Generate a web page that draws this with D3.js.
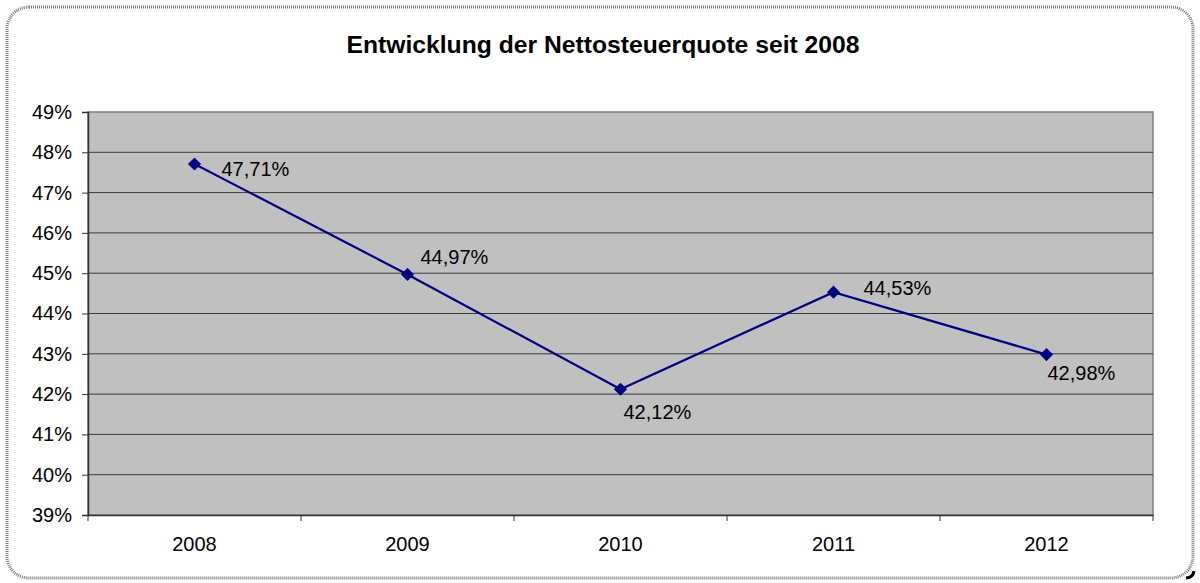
<!DOCTYPE html>
<html><head><meta charset="utf-8">
<script src="https://cdn.jsdelivr.net/npm/d3@7"></script>
<style>body{margin:0;background:#fff}svg{display:block}text{font-family:"Liberation Sans",Arial,sans-serif}</style>
</head><body>
<svg id="c" width="1200" height="583"></svg>
<script>
const title = "Entwicklung der Nettosteuerquote seit 2008";
const years = ["2008","2009","2010","2011","2012"];
const quote = [47.71, 44.97, 42.12, 44.53, 42.98];
const yTicks = [39,40,41,42,43,44,45,46,47,48,49];
// label offsets (dx, dy) relative to point, layout only
const labelDx = [27, 13, 3, 30, 1];
const labelDy = [12, -10, 30, 3, 25];

const svg = d3.select("#c");
// outer border
svg.append("rect").attr("x",7).attr("y",7).attr("width",1186).attr("height",571).attr("rx",22)
  .attr("fill","#fff").attr("stroke","#7a7a7a").attr("stroke-width",3).attr("stroke-dasharray","1,1");
svg.append("path").attr("d","M1186,578 Q1193,578 1194,571").attr("fill","none").attr("stroke","#000").attr("stroke-width",3);

const m = {l:88, r:1153, t:112, b:515};
const x = d3.scaleBand().domain(years).range([m.l,m.r]);
const y = d3.scaleLinear().domain([39,49]).range([m.b,m.t]);

svg.append("rect").attr("x",m.l).attr("y",m.t).attr("width",m.r-m.l).attr("height",m.b-m.t)
  .attr("fill","#c0c0c0").attr("stroke","#808080").attr("stroke-width",1.5);

svg.append("g").selectAll("line").data(yTicks.slice(1,-1)).join("line")
  .attr("x1",m.l).attr("x2",m.r).attr("y1",d=>y(d)).attr("y2",d=>y(d))
  .attr("stroke","#3a3a3a").attr("stroke-width",1);

// y axis
const ya = svg.append("g").attr("transform",`translate(${m.l},0)`)
  .call(d3.axisLeft(y).tickValues(yTicks).tickFormat(d=>d+"%").tickSize(6).tickPadding(10));
ya.select(".domain").attr("stroke","#333").attr("stroke-width",1.5);
ya.selectAll(".tick line").attr("stroke","#333");
ya.selectAll("text").attr("font-size",20).attr("fill","#000").attr("font-family","Liberation Sans, Arial");

// x axis
const xa = svg.append("g").attr("transform",`translate(0,${m.b})`)
  .call(d3.axisBottom(x).tickSize(0).tickPadding(22));
xa.select(".domain").attr("stroke","#333").attr("stroke-width",1.5);
xa.selectAll("text").attr("font-size",20).attr("fill","#000").attr("font-family","Liberation Sans, Arial");
svg.append("g").selectAll("line").data(years.concat(["end"])).join("line")
  .attr("x1",(d,i)=>m.l+i*x.bandwidth()).attr("x2",(d,i)=>m.l+i*x.bandwidth())
  .attr("y1",m.b).attr("y2",m.b+6).attr("stroke","#333");

const cx = d=>x(d)+x.bandwidth()/2;
svg.append("path").datum(quote)
  .attr("d",d3.line().x((d,i)=>cx(years[i])).y(d=>y(d)))
  .attr("fill","none").attr("stroke","#000080").attr("stroke-width",2.2);
svg.append("g").selectAll("path").data(quote).join("path")
  .attr("d",d3.symbol(d3.symbolDiamond2,110))
  .attr("transform",(d,i)=>`translate(${cx(years[i])},${y(d)})`)
  .attr("fill","#000080");
svg.append("g").selectAll("text").data(quote).join("text")
  .attr("x",(d,i)=>cx(years[i])+labelDx[i]).attr("y",(d,i)=>y(d)+labelDy[i])
  .attr("font-size",20).attr("fill","#000")
  .text(d=>d.toFixed(2).replace(".",",")+"%");

svg.append("text").attr("x",603).attr("y",53).attr("text-anchor","middle")
  .attr("font-size",24.7).attr("font-weight","bold").text(title);
</script>
</body></html>
